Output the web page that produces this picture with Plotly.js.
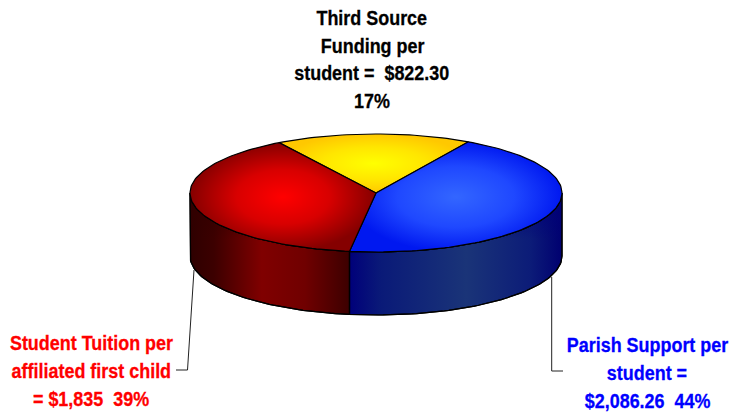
<!DOCTYPE html>
<html>
<head>
<meta charset="utf-8">
<script src="https://cdn.plot.ly/plotly-3.0.1.min.js"></script>
<style>html,body{margin:0;padding:0;background:#fff}#chart{width:730px;height:412px}</style>
</head>
<body>
<div id="chart"></div>
<script>
// Data (in pie order, clockwise from the start angle)
const categories = ["Third Source Funding per student", "Parish Support per student", "Student Tuition per affiliated first child"];
const amounts = [822.30, 2086.26, 1835];
const percents = [17, 44, 39];
const labelLines = [
  ["Third Source", "Funding per", "student =  $822.30", "17%"],
  ["Parish Support per", "student =", "$2,086.26  44%"],
  ["Student Tuition per", "affiliated first child", "= $1,835  39%"]
];
const labelColors = ["#000000", "#0000ff", "#ff0000"];

// Pie projection
const cx = 376, cy = 193, rx = 186, ry = 59, depth = 63;
const startDeg = 121.4;  // left edge of the first slice, counter-clockwise from east
const total = percents.reduce((a, b) => a + b, 0);

const topScales = [
  [[0, "#ffff00"], [0.55, "#ffe600"], [1, "#ffc800"]],
  [[0, "#3366ff"], [0.55, "#1f48ff"], [1, "#0018f0"]],
  [[0, "#ff0000"], [0.5, "#d80000"], [1, "#850000"]]
];
const wallScales = [
  null,
  [[0, "#00007a"], [0.15, "#0a1a78"], [0.55, "#1a3478"], [0.85, "#0c1c78"], [1, "#000070"]],
  [[0, "#2e0000"], [0.15, "#3c0000"], [0.45, "#800000"], [0.72, "#700000"], [1, "#3c0000"]]
];
const wallShade = [
  null,
  [[0, "rgba(0,0,122,0)"], [0.62, "rgba(0,0,122,0)"], [1, "rgba(0,0,122,0.95)"]],
  [[0, "rgba(50,0,0,0)"], [0.62, "rgba(50,0,0,0)"], [1, "rgba(50,0,0,0.9)"]]
];

function pt(deg, drop) {
  const a = deg * Math.PI / 180;
  return [cx + rx * Math.cos(a), cy - ry * Math.sin(a) + (drop || 0)];
}
function arc(from, to, drop) {
  const n = Math.max(2, Math.ceil(Math.abs(to - from) / 1.5));
  const out = [];
  for (let i = 0; i <= n; i++) out.push(pt(from + (to - from) * i / n, drop));
  return out;
}
function polyTrace(points, grad, lineWidth) {
  return {
    type: "scatter", mode: "lines", hoverinfo: "skip", showlegend: false,
    x: points.map(p => p[0]), y: points.map(p => p[1]),
    fill: "toself", line: { color: "#000000", width: lineWidth },
    fillgradient: grad
  };
}

const traces = [];
const slices = [];
let angle = startDeg;
percents.forEach((v) => {
  const sweep = v / total * 360;
  slices.push([angle, angle - sweep]);
  angle -= sweep;
});

// Side walls: only the part of each slice facing the viewer
[[1, 0, slices[1][1]], [2, slices[2][0], -180]].forEach(([i, s, e]) => {
  const upper = arc(s, e, 0);
  const lower = arc(e, s, depth);
  const poly = upper.concat(lower); poly.push(upper[0]);
  traces.push(polyTrace(poly, { type: "horizontal", colorscale: wallScales[i] }, 1.2));
  traces.push(polyTrace(poly, { type: "vertical", colorscale: wallShade[i] }, 1.2));
});

// Top faces
slices.forEach(([a, b], i) => {
  const poly = [[cx, cy]].concat(arc(a, b, 0)); poly.push([cx, cy]);
  traces.push(polyTrace(poly, { type: "radial", colorscale: topScales[i] }, 1.2));
});

// Leader lines
[
  { x: [194, 187.5, 176], y: [270, 370, 370] },
  { x: [551.7, 551.7, 563], y: [277, 371, 371] }
].forEach(l => traces.push({
  type: "scatter", mode: "lines", hoverinfo: "skip", showlegend: false,
  x: l.x, y: l.y, line: { color: "#222222", width: 1 }
}));

// Labels
const labelX = [372, 647, 91];
const labelY = [[17, 45, 72, 100], [344, 372, 400], [342, 370, 398]];
const textSqueeze = 0.855;
const annotations = [];
labelLines.forEach((lines, i) => lines.forEach((t, j) => annotations.push({
  x: labelX[i], y: labelY[i][j], xref: "x", yref: "y", text: t, showarrow: false,
  xanchor: "center", yanchor: "middle",
  font: { family: "'Liberation Sans', Arial, sans-serif", size: 21, color: labelColors[i], weight: 700 }
})));

Plotly.newPlot("chart", traces, {
  width: 730, height: 412,
  margin: { l: 0, r: 0, t: 0, b: 0 },
  paper_bgcolor: "#ffffff", plot_bgcolor: "#ffffff",
  showlegend: false,
  xaxis: { range: [0, 730], visible: false, fixedrange: true },
  yaxis: { range: [412, 0], visible: false, fixedrange: true },
  annotations: annotations
}, { staticPlot: true }).then(() => {
  // The reference uses a condensed bold face: narrow the real text about its centre.
  document.querySelectorAll("#chart .annotation-text").forEach(el => {
    const b = el.getBBox();
    const mid = b.x + b.width / 2;
    el.setAttribute("transform", `translate(${mid} 0) scale(${textSqueeze} 1) translate(${-mid} 0)`);
    el.style.stroke = el.style.fill;
    el.style.strokeWidth = "0.3px";
  });
  document.querySelectorAll("#chart .annotation rect.bg").forEach(r => {
    const w = parseFloat(r.getAttribute("width")) || 0;
    const x = parseFloat(r.getAttribute("x")) || 0;
    r.setAttribute("x", x + w * (1 - textSqueeze) / 2);
    r.setAttribute("width", w * textSqueeze);
  });
});
</script>
</body>
</html>
